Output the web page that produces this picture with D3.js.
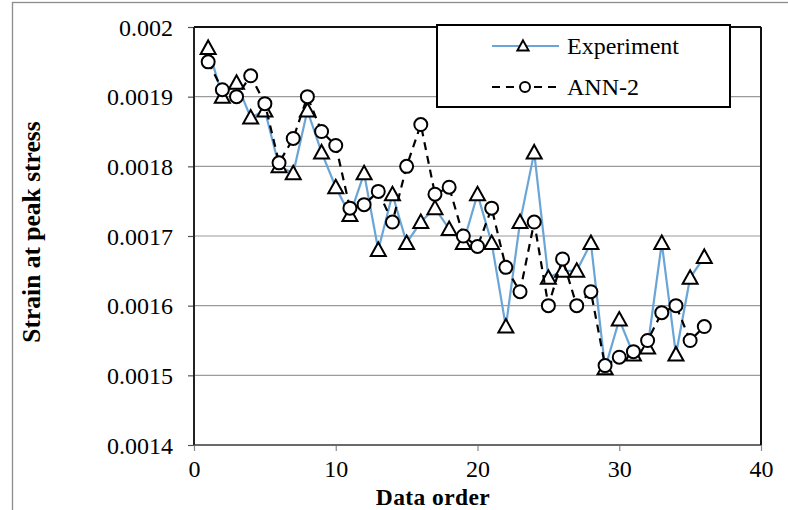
<!DOCTYPE html>
<html>
<head>
<meta charset="utf-8">
<script src="https://cdn.jsdelivr.net/npm/d3@7"></script>
<style>
  html, body { margin: 0; padding: 0; background: #fff; }
  svg { display: block; }
  text { font-family: "Liberation Serif", "Times New Roman", serif; fill: #000; }
</style>
</head>
<body>
<svg id="chart" width="788" height="510"></svg>
<script>
// Strain at peak stress: measured values vs. ANN-2 predictions
const dataOrder = d3.range(1, 37);
const experiment = [
  0.00197, 0.00190, 0.00192, 0.00187, 0.00188, 0.00180, 0.00179, 0.00188, 0.00182,
  0.00177, 0.00173, 0.00179, 0.00168, 0.00176, 0.00169, 0.00172, 0.00174, 0.00171,
  0.00169, 0.00176, 0.00169, 0.00157, 0.00172, 0.00182, 0.00164, 0.00165, 0.00165,
  0.00169, 0.00151, 0.00158, 0.00153, 0.00154, 0.00169, 0.00153, 0.00164, 0.00167
];
const ann2 = [
  0.00195, 0.00191, 0.00190, 0.00193, 0.00189, 0.001805, 0.00184, 0.00190, 0.00185,
  0.00183, 0.00174, 0.001745, 0.001764, 0.00172, 0.00180, 0.00186, 0.00176, 0.00177,
  0.00170, 0.001685, 0.00174, 0.001655, 0.00162, 0.00172, 0.00160, 0.001667, 0.00160,
  0.00162, 0.001514, 0.001526, 0.001534, 0.00155, 0.00159, 0.00160, 0.00155, 0.00157
];
const xTicks = [0, 10, 20, 30, 40];
const yTicks = [0.0014, 0.0015, 0.0016, 0.0017, 0.0018, 0.0019, 0.002];
const yTickLabels = ["0.0014", "0.0015", "0.0016", "0.0017", "0.0018", "0.0019", "0.002"];
const seriesNames = ["Experiment", "ANN-2"];

const svg = d3.select("#chart");
const plot = { left: 194, right: 761, top: 27, bottom: 445 };
const x = d3.scaleLinear().domain([0, 40]).range([plot.left, plot.right]);
const y = d3.scaleLinear().domain([0.0014, 0.002]).range([plot.bottom, plot.top]);
const font = 24;
const serif = "Liberation Serif, Times New Roman, serif";

// outer chart frame
svg.append("rect").attr("x", 12.5).attr("y", 2.5).attr("width", 900).attr("height", 700)
  .attr("fill", "#fff").attr("stroke", "#8c8c8c").attr("stroke-width", 1.3);

// horizontal gridlines
svg.append("g").selectAll("line").data(yTicks.slice(1, -1)).join("line")
  .attr("x1", plot.left).attr("x2", plot.right)
  .attr("y1", d => y(d)).attr("y2", d => y(d))
  .attr("stroke", "#9a9a9a").attr("stroke-width", 1.2);

// y axis
const yAxis = d3.axisLeft(y).tickValues(yTicks)
  .tickFormat((d, i) => yTickLabels[i]).tickSize(6).tickPadding(15);
const gy = svg.append("g").attr("transform", `translate(${plot.left},0)`).call(yAxis);
gy.select(".domain").remove();
gy.selectAll(".tick line").attr("stroke", "#555").attr("stroke-width", 1.2);
gy.selectAll(".tick text").attr("font-size", font).attr("font-family", serif)
  .attr("fill", "#111").attr("dy", "0.34em");

// x axis
const xAxis = d3.axisBottom(x).tickValues(xTicks).tickSize(6).tickPadding(9);
const gx = svg.append("g").attr("transform", `translate(0,${plot.bottom})`).call(xAxis);
gx.select(".domain").remove();
gx.selectAll(".tick line").attr("stroke", "#888").attr("stroke-width", 1.2);
gx.selectAll(".tick text").attr("font-size", font).attr("font-family", serif)
  .attr("fill", "#111");

// plot area border
svg.append("line").attr("x1", plot.left).attr("x2", plot.right).attr("y1", plot.bottom).attr("y2", plot.bottom)
  .attr("stroke", "#6a6a6a").attr("stroke-width", 2);
svg.append("line").attr("x1", plot.left).attr("x2", plot.left).attr("y1", plot.top).attr("y2", plot.bottom)
  .attr("stroke", "#222").attr("stroke-width", 2);
svg.append("line").attr("x1", plot.left).attr("x2", plot.right).attr("y1", plot.top).attr("y2", plot.top)
  .attr("stroke", "#111").attr("stroke-width", 2);
svg.append("line").attr("x1", plot.right).attr("x2", plot.right).attr("y1", plot.top).attr("y2", plot.bottom)
  .attr("stroke", "#111").attr("stroke-width", 2);

// axis titles
svg.append("text").attr("x", 433).attr("y", 504.5).attr("text-anchor", "middle")
  .attr("font-size", 23.5).attr("letter-spacing", 0.4).attr("font-weight", "bold").text("Data order");
svg.append("text").attr("transform", "translate(40,232) rotate(-90)").attr("text-anchor", "middle")
  .attr("font-size", 25.5).attr("font-weight", "bold").text("Strain at peak stress");

const line = d3.line().x((d, i) => x(dataOrder[i])).y(d => y(d));
const triPath = "M0,-7.5L7.5,6L-7.5,6Z";

// Experiment series
svg.append("path").datum(experiment).attr("d", line)
  .attr("fill", "none").attr("stroke", "#6aa5d8").attr("stroke-width", 2.2);
svg.append("g").selectAll("path").data(experiment).join("path")
  .attr("transform", (d, i) => `translate(${x(dataOrder[i])},${y(d)})`)
  .attr("d", triPath).attr("fill", "#fff").attr("stroke", "#000").attr("stroke-width", 2);

// ANN-2 series
svg.append("path").datum(ann2).attr("d", line)
  .attr("fill", "none").attr("stroke", "#000").attr("stroke-width", 2.2)
  .attr("stroke-dasharray", "8,6");
svg.append("g").selectAll("circle").data(ann2).join("circle")
  .attr("cx", (d, i) => x(dataOrder[i])).attr("cy", d => y(d)).attr("r", 6.5)
  .attr("fill", "#fff").attr("stroke", "#000").attr("stroke-width", 2);

// legend
const lg = svg.append("g");
lg.append("rect").attr("x", 437).attr("y", 25).attr("width", 293).attr("height", 82)
  .attr("fill", "#fff").attr("stroke", "#000").attr("stroke-width", 2);
lg.append("line").attr("x1", 492).attr("x2", 559).attr("y1", 46).attr("y2", 46)
  .attr("stroke", "#6aa5d8").attr("stroke-width", 2.2);
lg.append("path").attr("transform", "translate(523,46) scale(0.75)").attr("d", triPath)
  .attr("fill", "#fff").attr("stroke", "#000").attr("stroke-width", 2.6);
lg.append("text").attr("x", 567).attr("y", 54).attr("font-size", font).text(seriesNames[0]);
lg.append("line").attr("x1", 492).attr("x2", 559).attr("y1", 87).attr("y2", 87)
  .attr("stroke", "#000").attr("stroke-width", 2.2).attr("stroke-dasharray", "8,6");
lg.append("circle").attr("cx", 525).attr("cy", 87).attr("r", 5)
  .attr("fill", "#fff").attr("stroke", "#000").attr("stroke-width", 2);
lg.append("text").attr("x", 567).attr("y", 95).attr("font-size", font).text(seriesNames[1]);
</script>
</body>
</html>
